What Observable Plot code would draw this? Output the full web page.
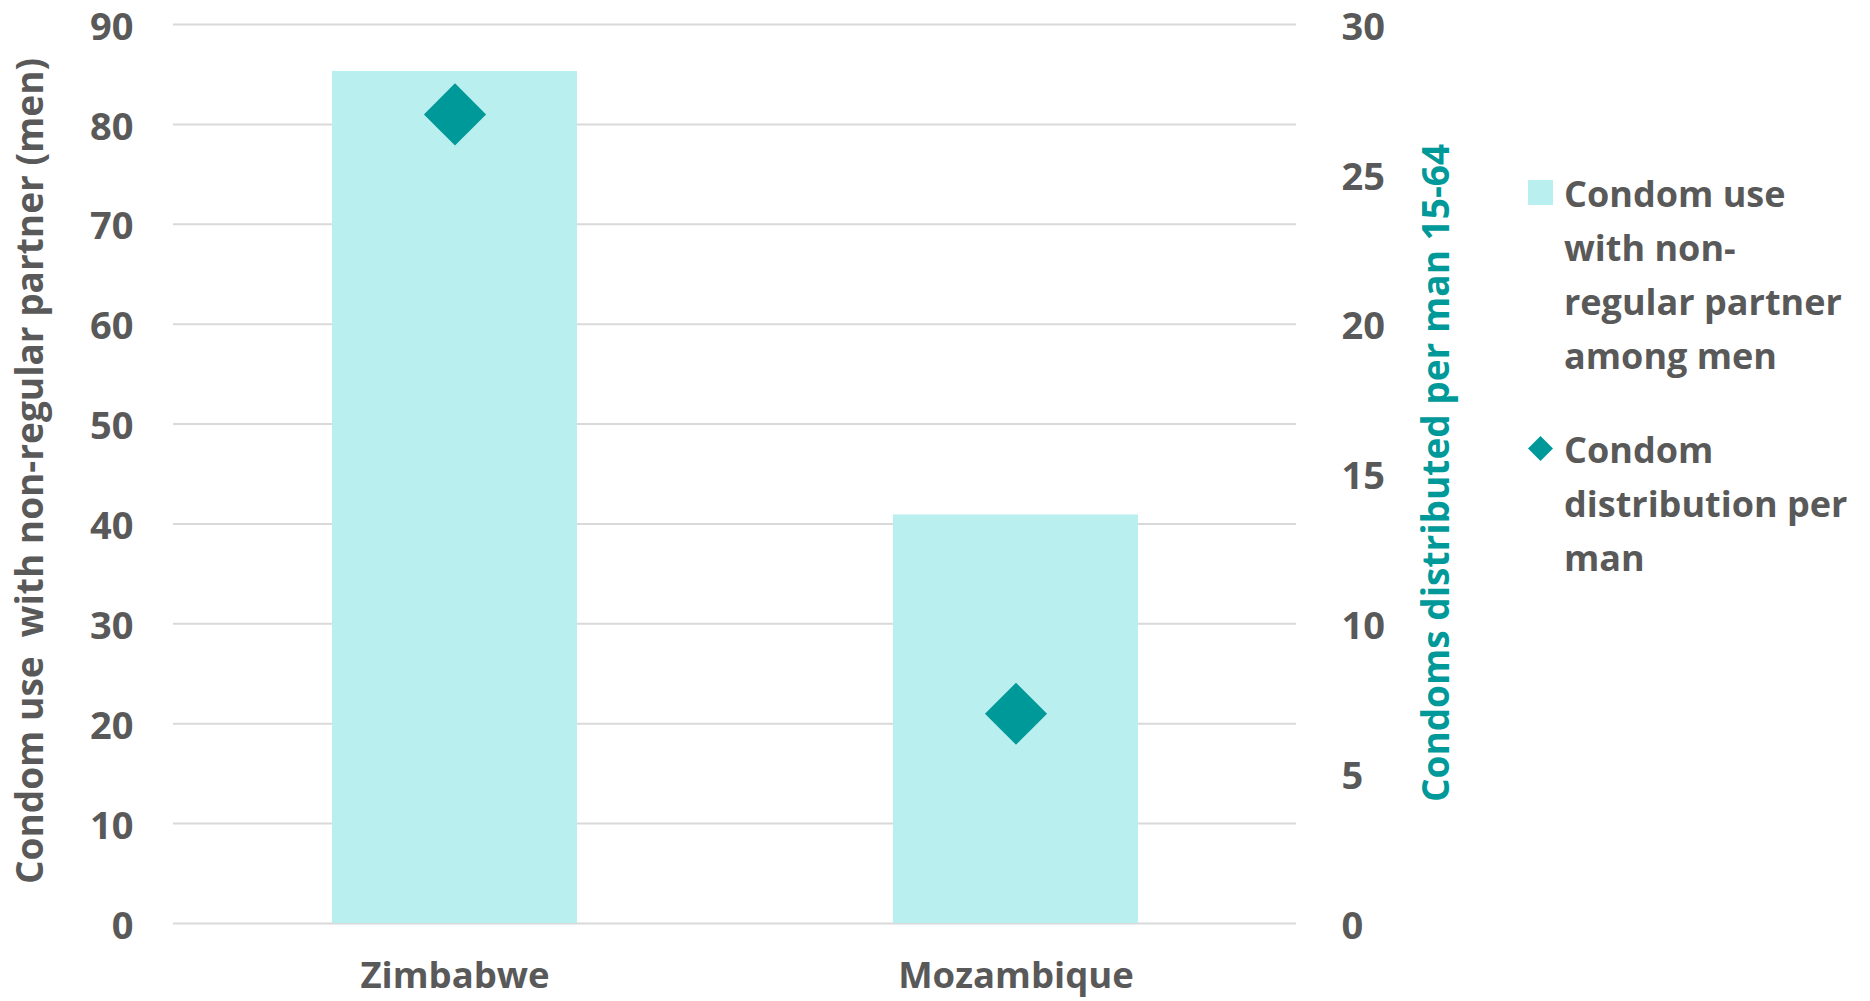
<!DOCTYPE html>
<html>
<head>
<meta charset="utf-8">
<script src="https://cdn.jsdelivr.net/npm/d3@7"></script>
<script src="https://cdn.jsdelivr.net/npm/@observablehq/plot@0.6"></script>
<style>
  body { margin: 0; background: #fff; }
  #wrap { position: relative; width: 1870px; height: 1001px; overflow: hidden; }
  #wrap svg text { white-space: pre; }
  #legend {
    position: absolute; left: 1528px; top: 167px;
    font-family: "Open Sans", sans-serif; font-weight: 700; font-size: 36px;
    line-height: 54px; color: #595959;
  }
  .item { display: flex; align-items: flex-start; }
  .item + .item { margin-top: 40px; }
  .swatch { width: 36px; flex: none; }
  .swatch svg { display: block; }
</style>
</head>
<body>
<div id="wrap"></div>
<script>
// Countries on the category axis
const countries = ["Zimbabwe", "Mozambique"];
// Condom use with a non-regular partner among men, % (left axis)
const condomUse = [85.3, 40.9];
// Condoms distributed per man aged 15-64 (right axis)
const condomsPerMan = [27, 7];

const leftTicks = [0, 10, 20, 30, 40, 50, 60, 70, 80, 90];
const rightTicks = [0, 5, 10, 15, 20, 25, 30];
const leftMax = 90;
const rightMax = 30;

const leftTitle = "Condom use  with non-regular partner (men)";
const rightTitle = "Condoms distributed per man 15-64";
const seriesLines = [
  ["Condom use", "with non-", "regular partner", "among men"],
  ["Condom", "distribution per", "man"]
];

const barColor = "#BAEFEF";
const dotColor = "#009999";
const textColor = "#595959";

// Right-axis values are mapped onto the left scale
const k = leftMax / rightMax;

const chart = Plot.plot({
  width: 1870,
  height: 1001,
  marginLeft: 173,
  marginRight: 574,
  marginTop: 24,
  marginBottom: 78,
  style: { fontFamily: "'Open Sans', sans-serif", fontWeight: 700, color: textColor, background: "transparent" },
  x: { domain: countries, paddingInner: 0.5637, paddingOuter: 0.2818, align: 0.5 },
  y: { domain: [0, leftMax] },
  marks: [
    Plot.gridY(leftTicks, { stroke: "#D9D9D9", strokeOpacity: 1, strokeWidth: 2 }),
    Plot.barY(countries, { x: countries, y: condomUse, fill: barColor }),
    Plot.dot(countries, { x: countries, y: condomsPerMan.map(v => v * k), symbol: "diamond2", r: 28, fill: dotColor, stroke: null }),
    Plot.axisY(leftTicks, { anchor: "left", tickSize: 0, tickPadding: 40, fontSize: 38, label: null, dy: 3 }),
    Plot.axisY(rightTicks.map(v => v * k), { anchor: "right", tickSize: 0, tickPadding: 45, fontSize: 38, tickFormat: v => String(v / k), label: null, dy: 3 }),
    Plot.axisX({ tickSize: 0, tickPadding: 39, fontSize: 36.5, label: null }),
    Plot.text([leftTitle], { frameAnchor: "left", textAnchor: "middle", rotate: -90, dx: -142, dy: -3, fontSize: 37, fill: textColor }),
    Plot.text([rightTitle], { frameAnchor: "right", textAnchor: "middle", rotate: -90, dx: 141, dy: -1, fontSize: 37, fill: dotColor })
  ]
});

const wrap = document.getElementById("wrap");
wrap.appendChild(chart);

// Legend to the right of the chart
const legend = document.createElement("div");
legend.id = "legend";
const swatches = [
  `<svg width="26" height="26" style="margin-top:13px"><rect x="0" y="0" width="25" height="25" fill="${barColor}"/></svg>`,
  `<svg width="26" height="26" style="margin-top:13px"><path d="M12.5 0 L25 12.5 L12.5 25 L0 12.5 Z" fill="${dotColor}"/></svg>`
];
seriesLines.forEach((lines, i) => {
  const item = document.createElement("div");
  item.className = "item";
  const sw = document.createElement("div");
  sw.className = "swatch";
  sw.innerHTML = swatches[i];
  const label = document.createElement("div");
  label.innerHTML = lines.join("<br>");
  item.appendChild(sw);
  item.appendChild(label);
  legend.appendChild(item);
});
wrap.appendChild(legend);
</script>
</body>
</html>
